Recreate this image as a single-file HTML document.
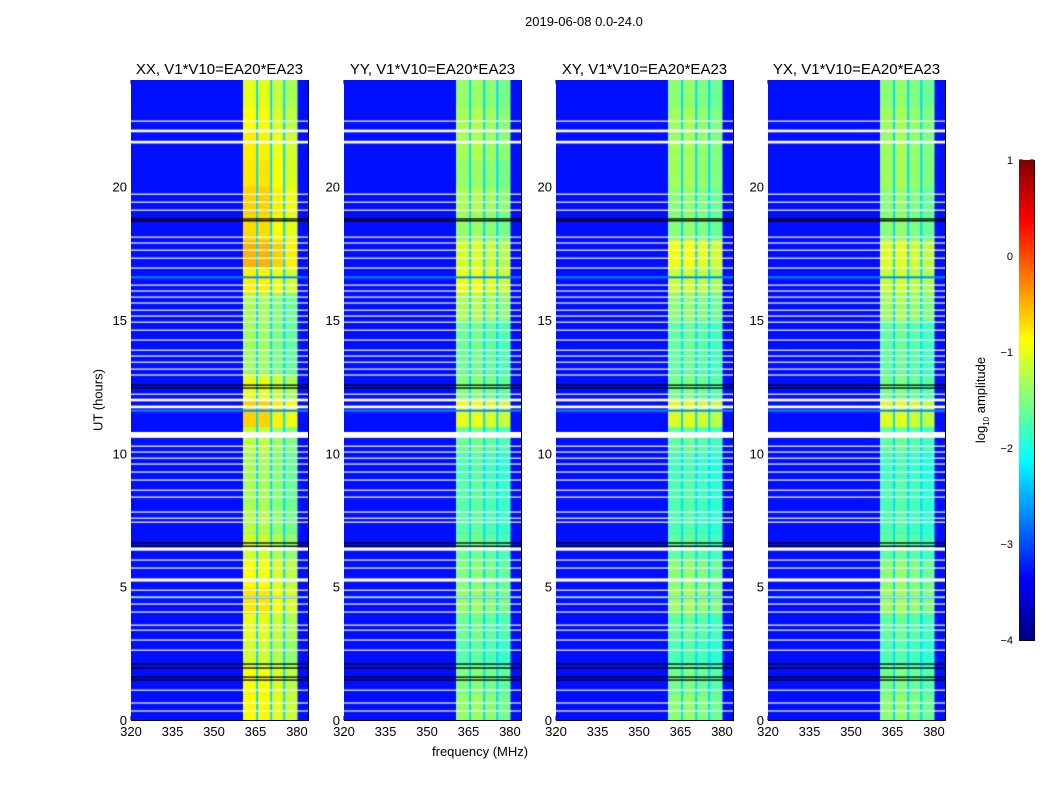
<!DOCTYPE html>
<html><head><meta charset="utf-8">
<style>
body{margin:0;background:#fff;width:1050px;height:800px;overflow:hidden;font-family:"Liberation Sans",sans-serif;}
#wrap{position:relative;width:1050px;height:800px;}
.t{position:absolute;font-size:13px;color:#000;white-space:nowrap;}
canvas{position:absolute;}
</style></head><body>
<div id="wrap">
<div class="t" style="left:525px;top:14px;">2019-06-08 0.0-24.0</div>
<div class="t" style="left:432px;top:744px;">frequency (MHz)</div>
<div class="t" style="left:98px;top:400px;transform:translate(-50%,-50%) rotate(-90deg);">UT (hours)</div>
<div class="t" style="left:982px;top:400px;transform:translate(-50%,-50%) rotate(-90deg);">log<sub style="font-size:8px">10</sub> amplitude</div>
<svg id="ov" width="1050" height="800" style="position:absolute;left:0;top:0"></svg>
</div>
<script>
// ---- data ----
const panelTitles = ["XX, V1*V10=EA20*EA23","YY, V1*V10=EA20*EA23","XY, V1*V10=EA20*EA23","YX, V1*V10=EA20*EA23"];
const xTicks = [320,335,350,365,380];
const yTicks = [0,5,10,15,20];
const cbTicks = [-4,-3,-2,-1,0,1];
const bandEdges = [360.5, 380.2];
const gapFreqs = [365.6, 370.7, 375.4];
const subBandLevels = [
  [-1.0,-1.0,-1.15,-1.3],
  [-1.5,-1.45,-1.55,-1.65],
  [-1.55,-1.5,-1.6,-1.7],
  [-1.55,-1.5,-1.6,-1.7]
];
const backgroundLevel = [-3.3,-3.3,-3.3,-3.3];
// hourly offsets for band (hour 0..23)
const timeProfiles = [
  [0.15,0.1,-0.1,0.0,0.25,0.1,-0.1,-0.25,-0.3,-0.3,-0.2,0.35,0.0,-0.35,-0.35,-0.3,0.2,0.5,0.3,0.35,0.25,0.2,0.1,0.0],
  [0.1,0.0,-0.2,-0.1,0.1,0.0,-0.1,-0.2,-0.2,-0.25,-0.1,0.5,0.0,-0.1,-0.1,0.2,0.5,0.4,0.1,0.2,0.1,0.2,0.2,0.1],
  [0.1,0.0,-0.2,-0.1,0.2,0.1,-0.1,-0.2,-0.2,-0.25,-0.1,0.5,0.0,-0.1,-0.1,0.1,0.4,0.6,0.1,0.1,0.2,0.2,0.2,0.1],
  [0.1,0.0,-0.2,-0.1,0.2,0.1,-0.1,-0.2,-0.2,-0.25,-0.1,0.5,0.0,-0.1,-0.1,0.2,0.4,0.5,0.1,0.1,0.2,0.2,0.2,0.1]
];
const flagHours = [22.46,22.09,21.67,19.72,19.42,19.12,18.11,17.89,17.62,17.32,16.95,16.31,16.09,15.86,15.64,15.37,15.15,14.92,14.62,14.25,13.87,13.65,13.42,13.16,12.94,12.22,12.0,11.74,10.69,10.27,10.05,9.82,9.6,9.3,9.0,8.62,8.36,7.8,7.57,7.42,6.41,6.0,5.7,5.25,4.87,4.61,4.35,4.05,3.56,3.37,3.0,2.62,1.12,0.64,0.34];
const flagWidths = [0.04,0.1,0.1,0.04,0.04,0.04,0.04,0.04,0.04,0.04,0.04,0.04,0.04,0.04,0.04,0.04,0.04,0.04,0.04,0.04,0.04,0.04,0.04,0.04,0.04,0.04,0.1,0.1,0.22,0.04,0.04,0.04,0.04,0.04,0.04,0.04,0.04,0.04,0.04,0.04,0.12,0.04,0.04,0.12,0.04,0.04,0.04,0.04,0.04,0.04,0.04,0.04,0.04,0.04,0.04];
const darkHours = [18.79,18.72,12.56,12.45,6.64,6.52,2.1,1.95,1.61,1.5];
const cyanHours = [16.6,11.6,4.6];

// ---- layout ----
const panelLeft=[131,344,556,768], PW=177, PT=80, PH=640;
const fMin=320,fMax=384,tMax=24;
function xs(f,p){return panelLeft[p]+(f-fMin)/(fMax-fMin)*PW;}
function ys(h){return PT+PH-(h/tMax)*PH;}
function jet(v){
  const c=x=>Math.max(0,Math.min(1,x));
  const r=c(1.5-Math.abs(4*v-3)),g=c(1.5-Math.abs(4*v-2)),b=c(1.5-Math.abs(4*v-1));
  return `rgb(${Math.round(r*255)},${Math.round(g*255)},${Math.round(b*255)})`;
}
function col(l){return jet((l+4)/5);}
const wrap=document.getElementById('wrap');
const NS='http://www.w3.org/2000/svg';
const ov=document.getElementById('ov');
function sv(tag,attrs){const e=document.createElementNS(NS,tag);for(const k in attrs)e.setAttribute(k,attrs[k]);ov.appendChild(e);return e;}
function txt(x,y,s,anchor,name,size){const e=sv('text',{x:x,y:y,'text-anchor':anchor,'font-size':size||13,'font-family':'Liberation Sans, sans-serif'});e.textContent=s;return e;}

for(let p=0;p<4;p++){
  const cv=document.createElement('canvas');
  cv.width=PW;cv.height=PH;cv.style.left=panelLeft[p]+'px';cv.style.top=PT+'px';
  
  
  wrap.appendChild(cv);
  const ctx=cv.getContext('2d');
  const X=f=>xs(f,p)-panelLeft[p], Y=h=>ys(h)-PT;
  ctx.fillStyle=col(backgroundLevel[p]);ctx.fillRect(0,0,PW,PH);
  const edges=[bandEdges[0],...gapFreqs,bandEdges[1]];
  for(let h=0;h<24;h++){
    for(let k=0;k<4;k++){
      const l=subBandLevels[p][k]+timeProfiles[p][h];
      ctx.fillStyle=col(l);
      ctx.fillRect(X(edges[k]),Y(h+1),X(edges[k+1])-X(edges[k]),Y(h)-Y(h+1)+0.5);
    }
  }
  ctx.fillStyle=col(-2.3);
  gapFreqs.forEach(g=>ctx.fillRect(X(g)-1,0,2,PH));
  ctx.fillStyle=col(-2.7);
  cyanHours.forEach(h=>ctx.fillRect(0,Y(h)-1,PW,2));
  ctx.fillStyle='#fff';
  flagHours.forEach((h,i)=>{const w=flagWidths[i]*PH/tMax;ctx.fillRect(0,Y(h)-w/2,PW,Math.max(1.2,w));});
  ctx.fillStyle='#000';
  darkHours.forEach(h=>ctx.fillRect(0,Y(h)-0.6,PW,1.3));
  const fr=sv('rect',{x:panelLeft[p]+0.5,y:PT+0.5,width:PW,height:PH,fill:'none',stroke:'#000','stroke-width':1});
  
  txt(panelLeft[p]+PW/2,74,panelTitles[p],'middle','panel-title-'+(p+1),15);
  xTicks.forEach(f=>{const x=xs(f,p);sv('line',{x1:x,x2:x,y1:PT+PH,y2:PT+PH-4,stroke:'#000'});sv('line',{x1:x,x2:x,y1:PT,y2:PT+4,stroke:'#000'});txt(x,736,String(f),'middle','x-tick-label',13);});
  yTicks.forEach(h=>{const y=ys(h);sv('line',{x1:panelLeft[p],x2:panelLeft[p]+4,y1:y,y2:y,stroke:'#000'});sv('line',{x1:panelLeft[p]+PW,x2:panelLeft[p]+PW-4,y1:y,y2:y,stroke:'#000'});txt(panelLeft[p]-4,y+5,String(h),'end','y-tick-label',13);});
}
const cb=document.createElement('canvas');cb.width=15;cb.height=480;cb.style.left='1019px';cb.style.top='160px';


wrap.appendChild(cb);
const cctx=cb.getContext('2d');
for(let i=0;i<480;i++){cctx.fillStyle=jet(1-i/479);cctx.fillRect(0,i,15,1);}
sv('rect',{x:1019.5,y:160.5,width:15,height:480,fill:'none',stroke:'#000'});
cbTicks.forEach(v=>{const y=640-(v+4)/5*480;sv('line',{x1:1019,x2:1023,y1:y,y2:y,stroke:'#000'});sv('line',{x1:1034,x2:1030,y1:y,y2:y,stroke:'#000'});txt(1013,y+4,(v<0?'\u2212':'')+Math.abs(v),'end','colorbar-tick-label',11);});
</script>
</body></html>
